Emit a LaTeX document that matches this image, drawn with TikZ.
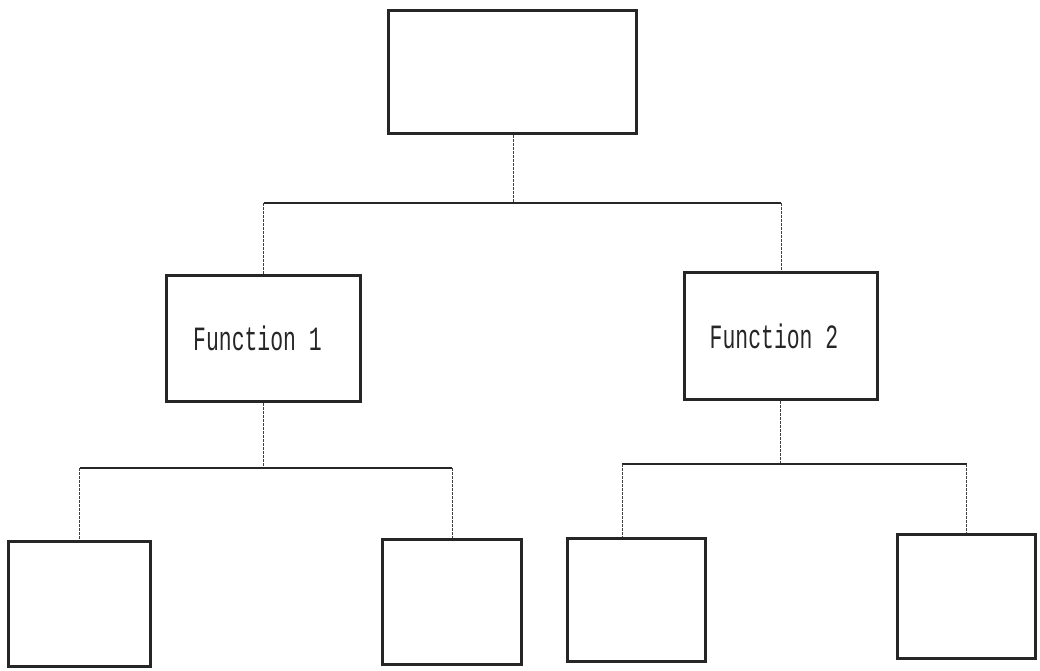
\documentclass[tikz,border=0pt]{standalone}
\usepackage{fontspec}
\usepackage{graphicx}
\newfontfamily\dotfont{Liberation Mono}
\usetikzlibrary{calc}
\tikzset{
  box/.style={draw=black!85, line width=3pt, rectangle, inner sep=0pt, fill=white},
  bus/.style={draw=black!85, line width=1.1pt},
  drop/.style={draw=black!75, line width=0.9pt, dash pattern=on 3pt off 1pt},
  lbl/.style={font=\dotfont\fontsize{34}{34}\selectfont, text=black!85}
}
\begin{document}
\begin{tikzpicture}[x=1pt, y=-1pt]
\useasboundingbox (0,0) rectangle (1040,670);
% boxes
\node[box, minimum width=248pt, minimum height=123pt] (top) at (512.5,72) {};
\node[box, minimum width=194pt, minimum height=126pt] (f1) at (263.5,338.5) {};
\node[box, minimum width=193pt, minimum height=127pt] (f2) at (781,336) {};
\node[box, minimum width=142pt, minimum height=125pt] (a) at (79.5,604) {};
\node[box, minimum width=139pt, minimum height=125pt] (b) at (452,602) {};
\node[box, minimum width=138pt, minimum height=123pt] (c) at (636.5,600) {};
\node[box, minimum width=138pt, minimum height=124pt] (d) at (966.5,596.5) {};
% labels
\node[lbl] (t1) at ([xshift=-6pt]f1.center) {\scalebox{0.63}[1]{Function 1}};
\node[lbl] (t2) at ([xshift=-7pt]f2.center) {\scalebox{0.63}[1]{Function 2}};
% junction coordinates
\coordinate (j0) at (513,203);
\coordinate (j1) at (263,468);
\coordinate (j2) at (780,464);
\coordinate (jc) at (622,466);
% top level
\draw[drop] (top.south -| j0) -- (j0);
\draw[bus] (j0 -| f1) -- (j0 -| f2);
\draw[drop] (j0 -| f1) -- (f1.north);
\draw[drop] (j0 -| f2) -- (f2.north);
% function 1
\draw[drop] (f1.south -| j1) -- (j1);
\draw[bus] (j1 -| a) -- (j1 -| b);
\draw[drop] (j1 -| a) -- (a.north);
\draw[drop] (j1 -| b) -- (b.north);
% function 2
\draw[drop] (f2.south -| j2) -- (j2);
\draw[bus] (j2 -| jc) -- (j2 -| d);
\draw[drop] (j2 -| jc) -- (c.north -| jc);
\draw[drop] (j2 -| d) -- (d.north);
\end{tikzpicture}
\end{document}
